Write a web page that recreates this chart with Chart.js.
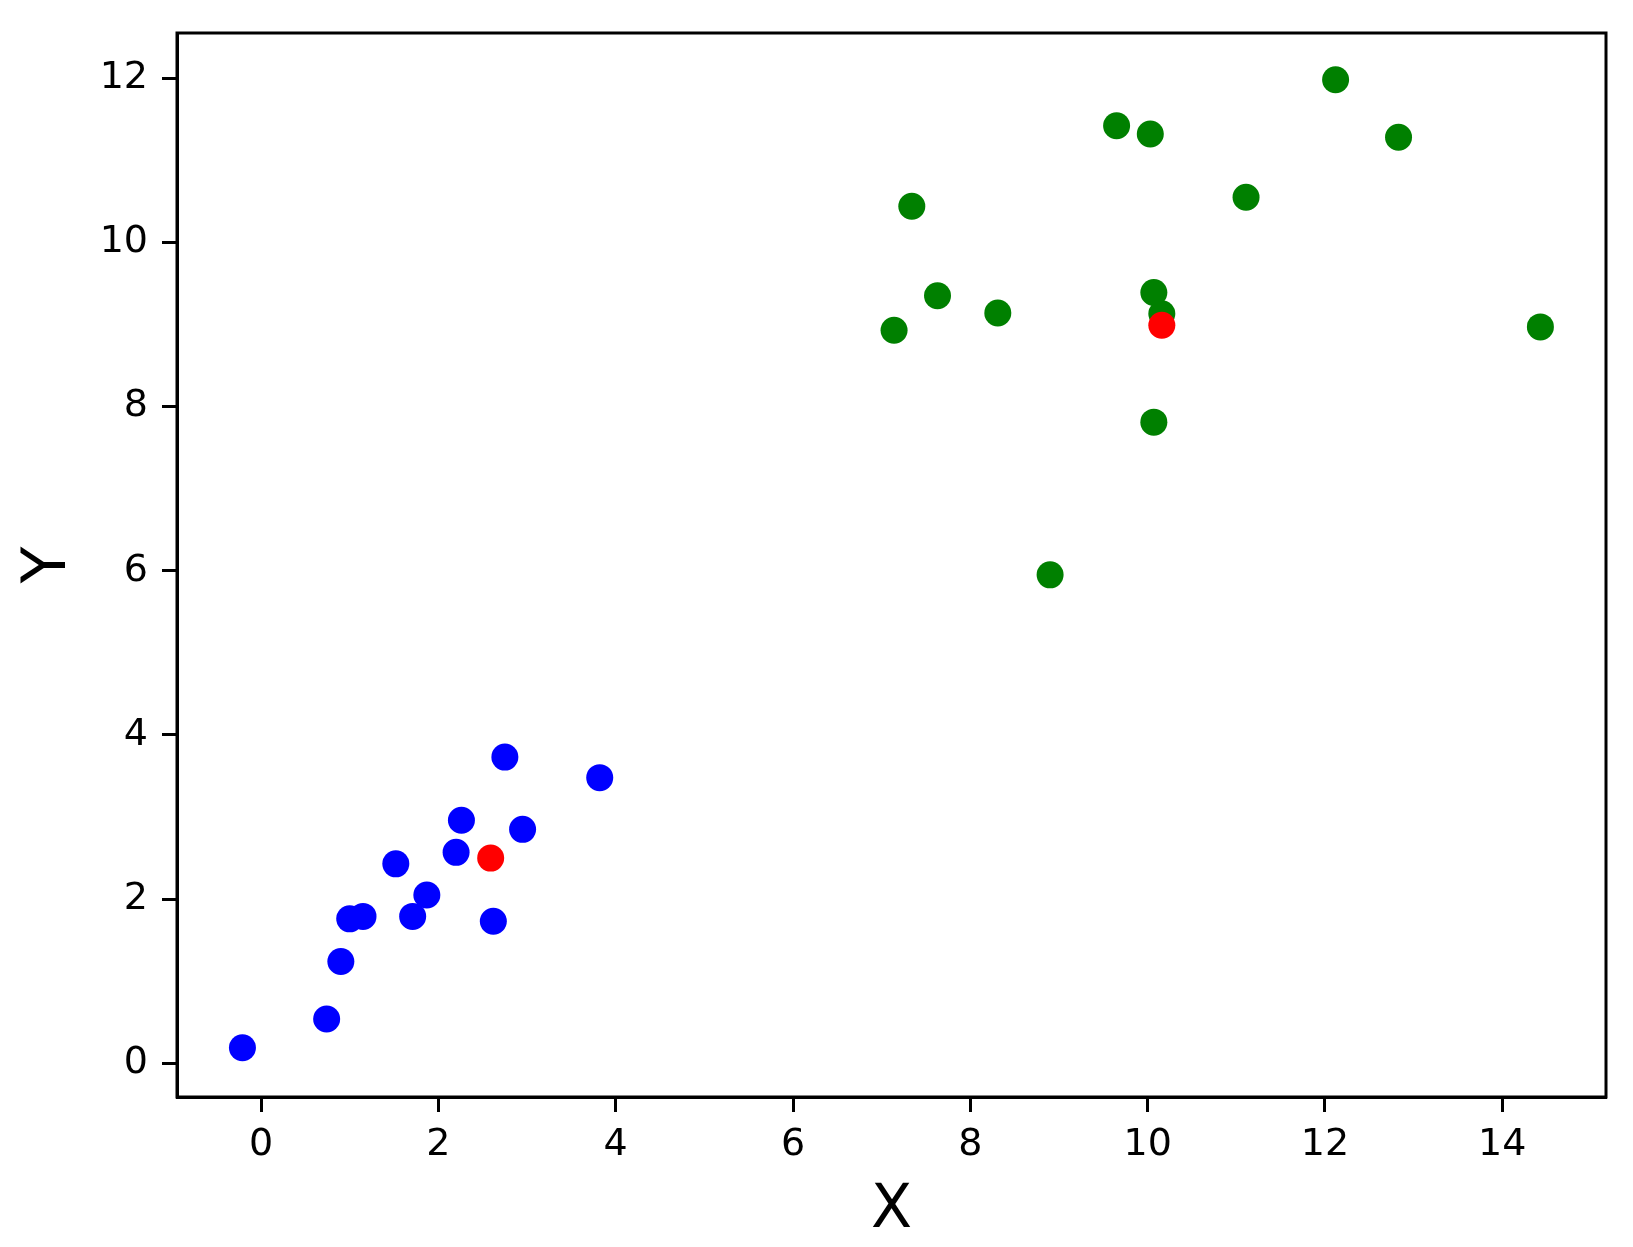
<!DOCTYPE html>
<html>
<head>
<meta charset="utf-8">
<script src="https://cdn.jsdelivr.net/npm/chart.js@4/dist/chart.umd.min.js"></script>
<style>
  html, body { margin: 0; padding: 0; background: #fff; }
  #wrap { width: 1633px; height: 1247px; position: relative; }
</style>
</head>
<body>
<div id="wrap"><canvas id="c"></canvas></div>
<script>
// Cluster A (blue)
const blueX = [-0.21, 0.74, 0.90, 1.00, 1.15, 1.71, 1.87, 1.52, 2.20, 2.26, 2.62, 2.75, 2.95, 3.82];
const blueY = [0.19, 0.54, 1.24, 1.76, 1.79, 1.79, 2.05, 2.43, 2.57, 2.96, 1.73, 3.73, 2.85, 3.48];
// Cluster B (green)
const greenX = [7.14, 7.34, 7.63, 8.31, 8.90, 9.65, 10.03, 10.07, 10.16, 10.07, 11.11, 12.12, 12.83, 14.43];
const greenY = [8.93, 10.44, 9.35, 9.14, 5.95, 11.42, 11.32, 9.39, 9.13, 7.81, 10.55, 11.98, 11.28, 8.97];
// Centroids (red)
const centerX = [2.59, 10.16];
const centerY = [2.50, 8.99];

const xTicks = [0, 2, 4, 6, 8, 10, 12, 14];
const yTicks = [0, 2, 4, 6, 8, 10, 12];
const xLabel = 'X';
const yLabel = 'Y';

const toPts = (xs, ys) => xs.map((x, i) => ({ x: x, y: ys[i] }));

const frame = {
  id: 'frame',
  afterDatasetsDraw(chart) {
    const a = chart.chartArea;
    const ctx = chart.ctx;
    ctx.save();
    ctx.strokeStyle = '#000';
    ctx.lineWidth = 3;
    ctx.strokeRect(a.left, a.top, a.right - a.left, a.bottom - a.top);
    ctx.restore();
  }
};

new Chart(document.getElementById('c'), {
  type: 'scatter',
  data: {
    datasets: [
      { label: 'centers', data: toPts(centerX, centerY), backgroundColor: '#ff0000', pointRadius: 13.5, borderWidth: 0 },
      { label: 'cluster 1', data: toPts(blueX, blueY), backgroundColor: '#0000ff', pointRadius: 13.5, borderWidth: 0 },
      { label: 'cluster 2', data: toPts(greenX, greenY), backgroundColor: '#008000', pointRadius: 13.5, borderWidth: 0 }
    ]
  },
  options: {
    responsive: true,
    maintainAspectRatio: false,
    animation: false,
    events: [],
    layout: { padding: { top: 33, right: 27, left: 0, bottom: 0 } },
    plugins: { legend: { display: false }, tooltip: { enabled: false } },
    scales: {
      x: {
        type: 'linear',
        min: -0.948,
        max: 15.17,
        afterFit(s) { s.height = 150; },
        afterBuildTicks(s) { s.ticks = xTicks.map(v => ({ value: v })); },
        ticks: { includeBounds: false, stepSize: 2, maxRotation: 0, autoSkip: false, padding: 10, color: '#000',
                 font: { family: 'DejaVu Sans', size: 38 } },
        grid: { drawOnChartArea: false, drawTicks: true, tickLength: 15, tickWidth: 3, tickColor: '#000' },
        border: { display: true, color: '#000', width: 3 },
        title: { display: true, text: xLabel, color: '#000', font: { family: 'DejaVu Sans', size: 60, lineHeight: 1 }, padding: { top: 0, bottom: 6 } }
      },
      y: {
        type: 'linear',
        min: -0.41,
        max: 12.55,
        afterFit(s) { s.width = 177; },
        afterBuildTicks(s) { s.ticks = yTicks.map(v => ({ value: v })); },
        ticks: { includeBounds: false, stepSize: 2, autoSkip: false, padding: 14, color: '#000',
                 font: { family: 'DejaVu Sans', size: 38, lineHeight: 1 } },
        grid: { drawOnChartArea: false, drawTicks: true, tickLength: 15, tickWidth: 3, tickColor: '#000' },
        border: { display: true, color: '#000', width: 3 },
        title: { display: true, text: yLabel, color: '#000', font: { family: 'DejaVu Sans', size: 60, lineHeight: 1 }, padding: { top: 19, bottom: 0 } }
      }
    }
  },
  plugins: [frame]
});
</script>
</body>
</html>
